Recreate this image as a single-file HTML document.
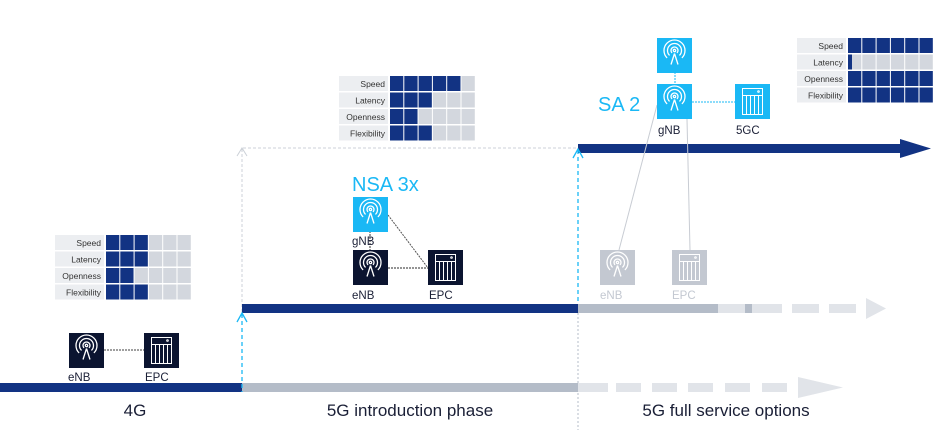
<!DOCTYPE html>
<html><head><meta charset="utf-8"><style>
html,body{margin:0;padding:0;background:#fff;width:945px;height:430px;overflow:hidden}
svg text{font-family:"Liberation Sans",sans-serif}
</style></head><body>
<svg width="945" height="430" viewBox="0 0 945 430" xmlns="http://www.w3.org/2000/svg" xmlns:xlink="http://www.w3.org/1999/xlink">
<defs>
<g id="ant" fill="none" stroke-width="1.3">
  <path d="M-2.47,-2.53 A3.5,3.5 0 1 1 2.47,-2.53 M-4.95,-0.05 A7,7 0 1 1 4.95,-0.05 M-7.42,2.42 A10.5,10.5 0 1 1 7.42,2.42"/>
  <path d="M0,-2 L-3.5,9 M0,-2 L3.5,9"/>
  <circle cx="0" cy="-5" r="1.2"/>
</g>
<g id="srv" fill="none" stroke-width="1">
  <rect x="-10" y="-13" width="20" height="26"/>
  <line x1="-10" y1="-6" x2="10" y2="-6"/>
  <path d="M-6,-6 V13 M-2,-6 V13 M2,-6 V13 M6,-6 V13"/>
  <circle cx="6" cy="-10" r="0.8"/>
</g>
<g id="tbl">
  <rect x="0" y="0" width="49" height="15" fill="#eceef1"/><rect x="0" y="16.5" width="49" height="15" fill="#eceef1"/><rect x="0" y="33" width="49" height="15" fill="#eceef1"/><rect x="0" y="49.5" width="49" height="15" fill="#eceef1"/>
  <rect x="51" y="0" width="84.8" height="15" fill="#d3d7de"/><rect x="51" y="16.5" width="84.8" height="15" fill="#d3d7de"/><rect x="51" y="33" width="84.8" height="15" fill="#d3d7de"/><rect x="51" y="49.5" width="84.8" height="15" fill="#d3d7de"/>
  <g font-size="8.5" fill="#333" text-anchor="end">
  <text x="46" y="11">Speed</text><text x="46" y="27.5">Latency</text><text x="46" y="44">Openness</text><text x="46" y="60.5">Flexibility</text>
  </g>
</g>
</defs>

<path d="M242,312 V148 H578" fill="none" stroke="#ccd1d8" stroke-width="1" stroke-dasharray="3,2"/>
<path d="M237,156 L242,148 L247,156" fill="none" stroke="#ccd1d8" stroke-width="1"/>
<line x1="578" y1="313" x2="578" y2="430" stroke="#b4bcc8" stroke-width="1" stroke-dasharray="2,2"/>

<rect x="0" y="383" width="242" height="9" fill="#123383"/>
<rect x="242" y="383" width="336" height="9" fill="#b4bcc8"/>
<rect x="578" y="383" width="30" height="9" fill="#e1e4e9"/>
<g fill="#e1e4e9">
<rect x="616" y="383" width="25" height="9"/><rect x="652" y="383" width="25" height="9"/>
<rect x="688" y="383" width="25" height="9"/><rect x="725" y="383" width="25" height="9"/>
<rect x="762" y="383" width="25" height="9"/>
<path d="M798,377 L843,387.5 L798,398 Z"/>
</g>

<rect x="242" y="304" width="336" height="9" fill="#123383"/>
<rect x="578" y="304" width="140" height="9" fill="#b4bcc8"/>
<rect x="718" y="304" width="64" height="9" fill="#e1e4e9"/>
<rect x="745" y="304" width="7" height="9" fill="#b4bcc8"/>
<g fill="#e1e4e9"><rect x="792" y="304" width="27" height="9"/><rect x="829" y="304" width="27" height="9"/>
<path d="M866,298 L886,308.5 L866,319 Z"/></g>

<rect x="578" y="144" width="325" height="9" fill="#123383"/>
<path d="M900,139 L931,148.5 L900,158 Z" fill="#123383"/>

<line x1="242" y1="314" x2="242" y2="392" stroke="#1ab8f5" stroke-width="1.3" stroke-dasharray="4,3"/>
<path d="M237,322 L242,313 L247,322" fill="none" stroke="#1ab8f5" stroke-width="1.3"/>
<line x1="578" y1="150" x2="578" y2="304" stroke="#1ab8f5" stroke-width="1.3" stroke-dasharray="4,3"/>
<path d="M573,158 L578,149 L583,158" fill="none" stroke="#1ab8f5" stroke-width="1.3"/>

<g font-size="17" fill="#1a1f36" text-anchor="middle">
<text x="135" y="416">4G</text>
<text x="410" y="416">5G introduction phase</text>
<text x="726" y="416">5G full service options</text>
</g>

<g transform="translate(55,235)">
  <use href="#tbl" xlink:href="#tbl"/>
  <g fill="#123383">
    <rect x="51" y="0" width="41.9" height="15"/><rect x="51" y="16.5" width="41.9" height="15"/>
    <rect x="51" y="33" width="27.6" height="15"/><rect x="51" y="49.5" width="41.9" height="15"/>
  </g>
  <g fill="#fff"><rect x="64.3" y="0" width="1" height="65"/><rect x="78.6" y="0" width="1" height="65"/><rect x="92.9" y="0" width="1" height="65"/><rect x="107.2" y="0" width="1" height="65"/><rect x="121.5" y="0" width="1" height="65"/></g>
</g>
<g transform="translate(339,76)">
  <use href="#tbl" xlink:href="#tbl"/>
  <g fill="#123383">
    <rect x="51" y="0" width="70.5" height="15"/><rect x="51" y="16.5" width="41.9" height="15"/>
    <rect x="51" y="33" width="27.6" height="15"/><rect x="51" y="49.5" width="41.9" height="15"/>
  </g>
  <g fill="#fff"><rect x="64.3" y="0" width="1" height="65"/><rect x="78.6" y="0" width="1" height="65"/><rect x="92.9" y="0" width="1" height="65"/><rect x="107.2" y="0" width="1" height="65"/><rect x="121.5" y="0" width="1" height="65"/></g>
</g>
<g transform="translate(797,38)">
  <use href="#tbl" xlink:href="#tbl"/>
  <g fill="#123383">
    <rect x="51" y="0" width="84.8" height="15"/><rect x="51" y="16.5" width="4" height="15"/>
    <rect x="51" y="33" width="84.8" height="15"/><rect x="51" y="49.5" width="84.8" height="15"/>
  </g>
  <g fill="#fff"><rect x="64.3" y="0" width="1" height="65"/><rect x="78.6" y="0" width="1" height="65"/><rect x="92.9" y="0" width="1" height="65"/><rect x="107.2" y="0" width="1" height="65"/><rect x="121.5" y="0" width="1" height="65"/></g>
</g>

<line x1="104" y1="350" x2="144" y2="350" stroke="#666" stroke-width="1.2" stroke-dasharray="2,1"/>
<line x1="370" y1="231" x2="370" y2="250" stroke="#555" stroke-width="1.2" stroke-dasharray="2,1"/>
<line x1="388" y1="215" x2="428" y2="268" stroke="#555" stroke-width="1" stroke-dasharray="2,1"/>
<line x1="388" y1="268" x2="428" y2="268" stroke="#555" stroke-width="1.2" stroke-dasharray="2,1"/>
<line x1="675" y1="72" x2="675" y2="84" stroke="#1ab8f5" stroke-width="1" stroke-dasharray="2,1"/>
<line x1="692" y1="102" x2="735" y2="102" stroke="#1ab8f5" stroke-width="1" stroke-dasharray="2,1"/>
<line x1="657" y1="105" x2="619" y2="250" stroke="#c8ccd3" stroke-width="1"/>
<line x1="687" y1="119" x2="690" y2="250" stroke="#c8ccd3" stroke-width="1"/>

<rect x="69" y="333" width="35" height="35" fill="#0b1430"/><use href="#ant" xlink:href="#ant" x="86.5" y="350.5" stroke="#fff"/>
<rect x="144" y="333" width="35" height="35" fill="#0b1430"/><use href="#srv" xlink:href="#srv" x="161.5" y="350.5" stroke="#fff"/>
<rect x="353" y="197" width="35" height="35" fill="#1ab8f5"/><use href="#ant" xlink:href="#ant" x="370.5" y="214.5" stroke="#fff"/>
<rect x="353" y="250" width="35" height="35" fill="#0b1430"/><use href="#ant" xlink:href="#ant" x="370.5" y="267.5" stroke="#fff"/>
<rect x="428" y="250" width="35" height="35" fill="#0b1430"/><use href="#srv" xlink:href="#srv" x="445.5" y="267.5" stroke="#fff"/>
<rect x="657" y="38" width="35" height="35" fill="#1ab8f5"/><use href="#ant" xlink:href="#ant" x="674.5" y="55.5" stroke="#fff"/>
<rect x="657" y="84" width="35" height="35" fill="#1ab8f5"/><use href="#ant" xlink:href="#ant" x="674.5" y="101.5" stroke="#fff"/>
<rect x="735" y="84" width="35" height="35" fill="#1ab8f5"/><use href="#srv" xlink:href="#srv" x="752.5" y="101.5" stroke="#fff"/>
<rect x="600" y="250" width="35" height="35" fill="#c3c8d1"/><use href="#ant" xlink:href="#ant" x="617.5" y="267.5" stroke="#fff"/>
<rect x="672" y="250" width="35" height="35" fill="#c3c8d1"/><use href="#srv" xlink:href="#srv" x="689.5" y="267.5" stroke="#fff"/>

<g font-size="11.5" fill="#1a1f36">
<text x="68" y="381">eNB</text><text x="145" y="381">EPC</text>
<text x="352" y="245">gNB</text><text x="352" y="299">eNB</text><text x="429" y="299">EPC</text>
<text x="658" y="134">gNB</text><text x="736" y="134">5GC</text>
<text x="600" y="299" fill="#c3c8d1">eNB</text><text x="672" y="299" fill="#c3c8d1">EPC</text>
</g>
<g font-size="20" fill="#1ab8f5">
<text x="352" y="191">NSA 3x</text>
<text x="598" y="111">SA 2</text>
</g>
</svg>
</body></html>
